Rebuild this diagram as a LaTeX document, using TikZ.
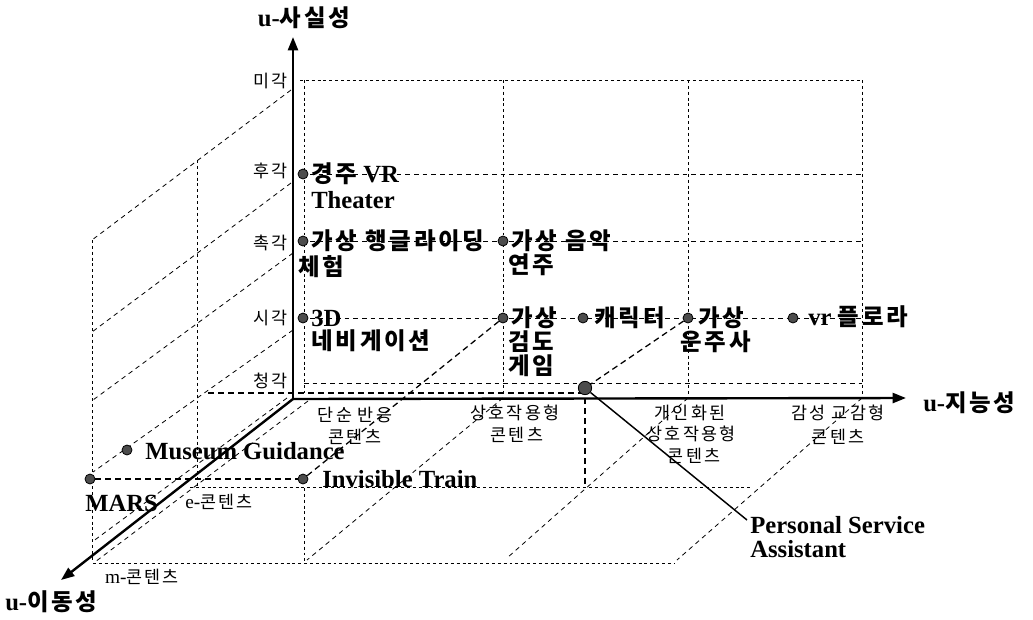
\documentclass[tikz,border=0pt]{standalone}
\usepackage{fontspec}
\setmainfont{Liberation Serif}
\newfontfamily\kr{Noto Sans CJK KR}[Scale=0.95,LetterSpace=12]
\newfontfamily\krs{Noto Sans CJK KR}[Scale=0.9,LetterSpace=12]
\usetikzlibrary{arrows.meta}
\tikzset{
  axisline/.style={line width=1.8pt,-{Triangle[length=10pt,width=7.5pt]}},
  fine/.style={line width=0.55pt,dash pattern=on 2.2pt off 2.2pt},
  dsh/.style={line width=0.6pt,dash pattern=on 3.5pt off 3pt},
  bdsh/.style={line width=0.95pt,dash pattern=on 4.5pt off 3pt},
  dotnode/.style={circle,draw=black,line width=0.6pt,fill=black!70,inner sep=0pt,minimum size=7.5pt},
  bigdot/.style={dotnode,minimum size=10pt},
  blab/.style={anchor=west,inner sep=0pt,font=\bfseries\fontsize{18.5}{21}\selectfont},
  slab/.style={inner sep=0pt,font=\krs\fontsize{14.5}{16}\selectfont},
}
\begin{document}
\begin{tikzpicture}[x=0.75pt,y=-0.75pt]
\useasboundingbox (0,0) rectangle (1033,619);
% axis coordinates
\coordinate (O) at (293,399);
\coordinate (Ytip) at (293,37);
\coordinate (Xtip) at (906,398);
\coordinate (Ztip) at (61,580);
% back plane grid
\draw[fine] (300,80) -- (862,80);
\draw[fine] (304,80) -- (304,393);
\draw[fine] (503,80) -- (503,392);
\draw[fine] (688,80) -- (688,398);
\draw[fine] (862,80) -- (862,398);
\draw[dsh] (310,174) -- (862,174);
\draw[dsh] (310,241) -- (862,241);
\draw[dsh] (310,318) -- (862,318);
\draw[dsh] (304,383) -- (862,383);
% left plane
\draw[dsh] (291,90) -- (92,240);
\draw[dsh] (291,183) -- (92,332);
\draw[dsh] (293,253) -- (93,400);
\draw[dsh] (293,330) -- (93,472);
\draw[fine] (197,160) -- (197,487);
\draw[fine] (92,240) -- (92,560);
\draw[dsh] (287,398) -- (92,542);
\draw[dsh] (308,401) -- (95,562);
% floor
\draw[fine] (190,487) -- (753,487);
\draw[fine] (93,563) -- (675,563);
\draw[fine] (304,488) -- (304,562);
\draw[dsh] (503,398) -- (307,560);
\draw[dsh] (688,398) -- (507,558);
\draw[dsh] (862,398) -- (677,560);
\draw[bdsh] (208,393) -- (585,393);
\draw[bdsh] (585,398) -- (585,487);
% axes
\draw[axisline] (O) -- (Ytip);
\draw[axisline] (O) -- (Xtip);
\draw[axisline] (O) -- (Ztip);
% dots
\node[dotnode] (gj) at (303,174) {};
\node[dotnode] (hg) at (303,241) {};
\node[dotnode] (um) at (503,241) {};
\node[dotnode] (nav) at (303,318) {};
\node[dotnode] (kd) at (503,318) {};
\node[dotnode] (ch) at (583,318) {};
\node[dotnode] (uj) at (688,318) {};
\node[dotnode] (fl) at (793,318) {};
\node[bigdot] (psa) at (585,388) {};
\node[dotnode] (mg) at (127,450) {};
\node[dotnode] (mars) at (90,479) {};
\node[dotnode] (it) at (303,479) {};
\coordinate (psaend) at (747,520);
% connectors
\draw[bdsh] (kd) -- (it);
\draw[bdsh] (uj) -- (psa);
\draw[bdsh] (mars) -- (it);
\draw[line width=1.1pt] (psa) -- (psaend);
% axis labels
\node[inner sep=0pt,font=\bfseries\fontsize{18.5}{21}\selectfont] (ylab) at (304,18) {u-{\kr 사실성}};
\node[blab] (xlab) at (923,403) {u-{\kr 지능성}};
\node[blab] (zlab) at (5,602) {u-{\kr 이동성}};
% level labels
\node[slab,anchor=east] (l1) at (288,81) {미각};
\node[slab,anchor=east] (l2) at (288,171) {후각};
\node[slab,anchor=east] (l3) at (288,243) {촉각};
\node[slab,anchor=east] (l4) at (288,318) {시각};
\node[slab,anchor=east] (l5) at (288,381) {청각};
% x labels
\node[slab] (x1a) at (355,415) {단순 반응};
\node[slab] (x1b) at (355,437) {콘텐츠};
\node[slab] (x2a) at (515,413) {상호작용형};
\node[slab] (x2b) at (517,435) {콘텐츠};
\node[slab] (x3a) at (690,413) {개인화된};
\node[slab] (x3b) at (691,434) {상호작용형};
\node[slab] (x3c) at (694,456) {콘텐츠};
\node[slab] (x4a) at (838,413) {감성 교감형};
\node[slab] (x4b) at (838,437) {콘텐츠};
% depth labels
\node[slab,font=\fontsize{14.5}{16}\selectfont] (e) at (219,502) {e-{\krs 콘텐츠}};
\node[slab,font=\fontsize{14.5}{16}\selectfont] (m) at (142,577) {m-{\krs 콘텐츠}};
% item labels
\node[blab] (t1) at (311,174) {{\kr 경주} VR};
\node[blab] (t1b) at (311,200) {Theater};
\node[blab] (t2) at (311,241) {\kr 가상 행글라이딩};
\node[blab] (t2b) at (298,267) {\kr 체험};
\node[blab] (t3) at (511,241) {\kr 가상 음악};
\node[blab] (t3b) at (508,265) {\kr 연주};
\node[blab] (t4) at (311,318) {3D};
\node[blab] (t4b) at (311,341) {\kr 네비게이션};
\node[blab] (t5) at (511,318) {\kr 가상};
\node[blab] (t5b) at (508,342) {\kr 검도};
\node[blab] (t5c) at (508,366) {\kr 게임};
\node[blab] (t6) at (594,318) {\kr 캐릭터};
\node[blab] (t7) at (698,318) {\kr 가상};
\node[blab] (t7b) at (680,342) {\kr 운주사};
\node[blab] (t8) at (808,317) {vr {\kr 플로라}};
\node[blab] (t9) at (145,451) {Museum Guidance};
\node[blab] (t10) at (85,503) {MARS};
\node[blab] (t11) at (322,479) {Invisible Train};
\node[blab] (t12) at (750,525) {Personal Service};
\node[blab] (t12b) at (750,549) {Assistant};
\end{tikzpicture}
\end{document}
